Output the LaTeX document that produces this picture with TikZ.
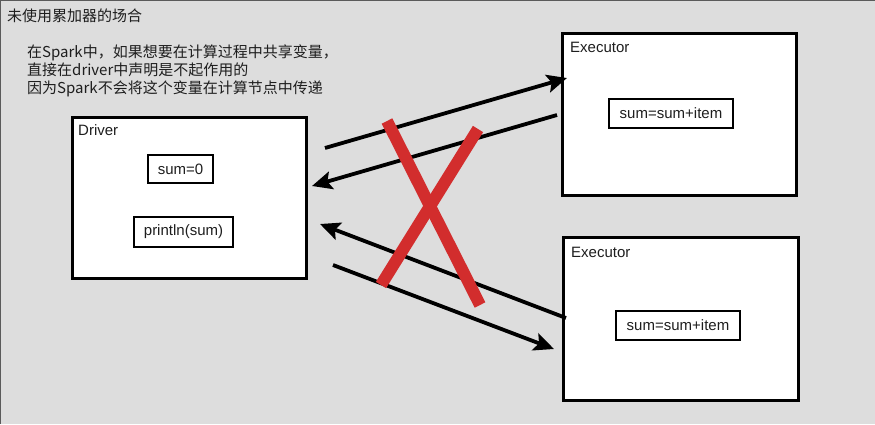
\documentclass[tikz,border=0pt]{standalone}
\usepackage{fontspec}
\setmainfont{Noto Sans CJK SC}
\newfontfamily\lat{Liberation Sans}
\usetikzlibrary{arrows.meta}
\definecolor{bgray}{RGB}{221,221,221}
\definecolor{frameline}{RGB}{90,90,90}
\definecolor{xred}{RGB}{210,45,45}
\definecolor{txt}{RGB}{30,30,30}
\begin{document}
\begin{tikzpicture}[x=1pt,y=-1pt,
  bigbox/.style={draw=black, fill=white, line width=2.8pt, rectangle, anchor=north west, inner sep=0pt},
  smallbox/.style={draw=black, fill=white, line width=2.8pt, rectangle, inner sep=0pt, text=txt, font=\lat\fontsize{15}{17}\selectfont},
  lbl/.style={anchor=base west, inner sep=0pt, text=txt, font=\lat\fontsize{15}{17}\selectfont},
  cjk/.style={anchor=base west, inner sep=0pt, text=txt, font=\fontsize{15}{17}\selectfont},
  flow/.style={line width=3.8pt, -{Stealth[length=20pt,width=18pt,inset=4pt]}, black},
  cross/.style={line width=12pt, xred}
]
\fill[bgray] (0,0) rectangle (875,424);
\useasboundingbox (0,0) rectangle (875,424);
\draw[frameline, line width=2.5pt] (0,424) -- (0,0) -- (875,0);

\node[cjk] (title) at (7,21) {未使用累加器的场合};
\node[cjk] (l1) at (27,57) {在Spark中，如果想要在计算过程中共享变量，};
\node[cjk] (l2) at (27,75) {直接在driver中声明是不起作用的};
\node[cjk] (l3) at (27,93) {因为Spark不会将这个变量在计算节点中传递};

\node[bigbox, minimum width=234pt, minimum height=161pt] (driver) at (71,116) {};
\node[lbl] (dlbl) at (78,135) {Driver};
\node[smallbox, minimum width=65pt, minimum height=28pt] (sum0) at (180.5,169) {sum=0};
\node[smallbox, minimum width=99pt, minimum height=30pt] (print) at (183.5,232) {println(sum)};

\node[bigbox, minimum width=234pt, minimum height=162pt] (exec1) at (561,32) {};
\node[lbl] (e1lbl) at (570,52) {Executor};
\node[smallbox, minimum width=124pt, minimum height=29pt] (item1) at (671,113.5) {sum=sum+item};

\node[bigbox, minimum width=235pt, minimum height=163pt] (exec2) at (562,236) {};
\node[lbl] (e2lbl) at (571,257) {Executor};
\node[smallbox, minimum width=124pt, minimum height=29pt] (item2) at (678,325.5) {sum=sum+item};

\coordinate (a1s) at (325,148);
\coordinate (a1e) at (567,78);
\coordinate (a2s) at (557,115);
\coordinate (a2e) at (312,186);
\coordinate (a3s) at (566,318);
\coordinate (a3e) at (320,224);
\coordinate (a4s) at (333,265);
\coordinate (a4e) at (554,349);
\draw[flow] (a1s) -- (a1e);
\draw[flow] (a2s) -- (a2e);
\draw[flow] (a3s) -- (a3e);
\draw[flow] (a4s) -- (a4e);

\coordinate (x1s) at (387,121);
\coordinate (x1e) at (480,305);
\coordinate (x2s) at (478,129);
\coordinate (x2e) at (381,285);
\draw[cross] (x1s) -- (x1e);
\draw[cross] (x2s) -- (x2e);
\end{tikzpicture}
\end{document}
